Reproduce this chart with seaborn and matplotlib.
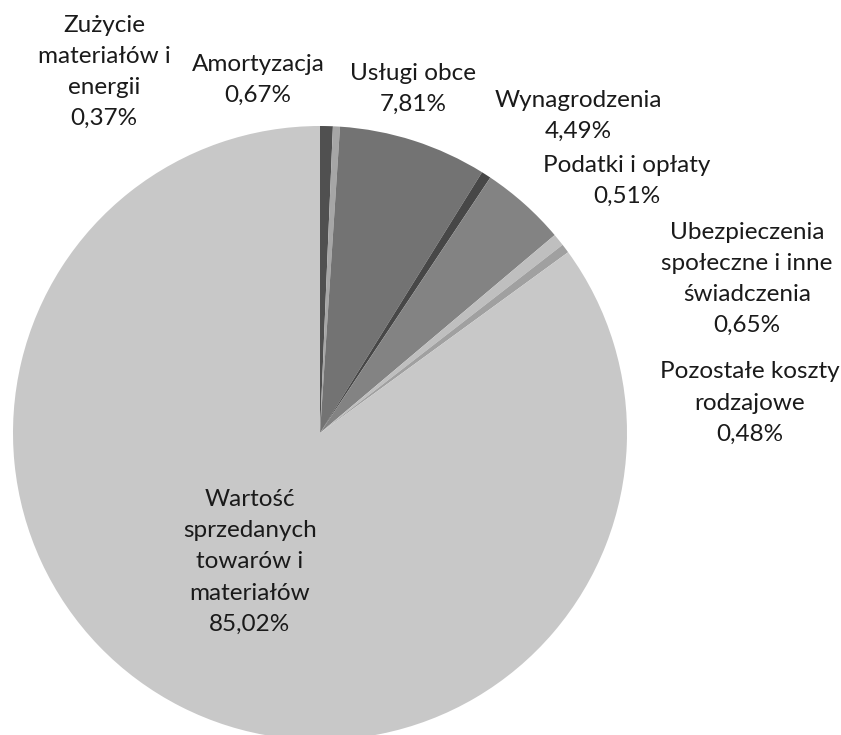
import matplotlib
matplotlib.use("Agg")
import matplotlib.pyplot as plt
import seaborn as sns

# kolejnosc wycinkow zgodnie z wykresem (od gory, zgodnie z ruchem wskazowek)
kategorie = ["Amortyzacja", "Zużycie\nmateriałów i\nenergii", "Usługi obce",
             "Podatki i opłaty", "Wynagrodzenia",
             "Ubezpieczenia\nspołeczne i inne\nświadczenia",
             "Pozostałe koszty\nrodzajowe",
             "Wartość\nsprzedanych\ntowarów i\nmateriałów"]
udzialy = [0.67, 0.37, 7.81, 0.51, 4.49, 0.65, 0.48, 85.02]
kolory = ["#505050", "#a6a6a6", "#737373", "#474747", "#838383",
          "#bfbfbf", "#a0a0a0", "#c8c8c8"]

# polozenie etykiet w pikselach (x, y od gory)
pozycje = [(258, 80), (104, 72), (413, 89), (627, 181), (578, 116),
           (747, 279), (750, 403), (250, 562)]

sns.set_style("white")
plt.rcParams["font.family"] = ["Lato", "DejaVu Sans"]

W, H = 841, 735
fig = plt.figure(figsize=(W / 100, H / 100), dpi=100)
cx, cy, r = 320, 433, 307
ax = fig.add_axes([(cx - r) / W, 1 - (cy + r) / H, 2 * r / W, 2 * r / H])
ax.pie(udzialy, colors=kolory, startangle=90, counterclock=False,
       wedgeprops=dict(linewidth=0))
ax.set_xlim(-1, 1)
ax.set_ylim(-1, 1)
ax.set_axis_off()

for kat, val, (px, py) in zip(kategorie, udzialy, pozycje):
    tekst = kat + "\n" + f"{val:.2f}".replace(".", ",") + "%"
    fig.text(px / W, 1 - py / H, tekst, ha="center", va="center",
             fontsize=17.5, color="#1a1a1a", linespacing=1.6, multialignment="center")

fig.savefig("out.png", dpi=100)
